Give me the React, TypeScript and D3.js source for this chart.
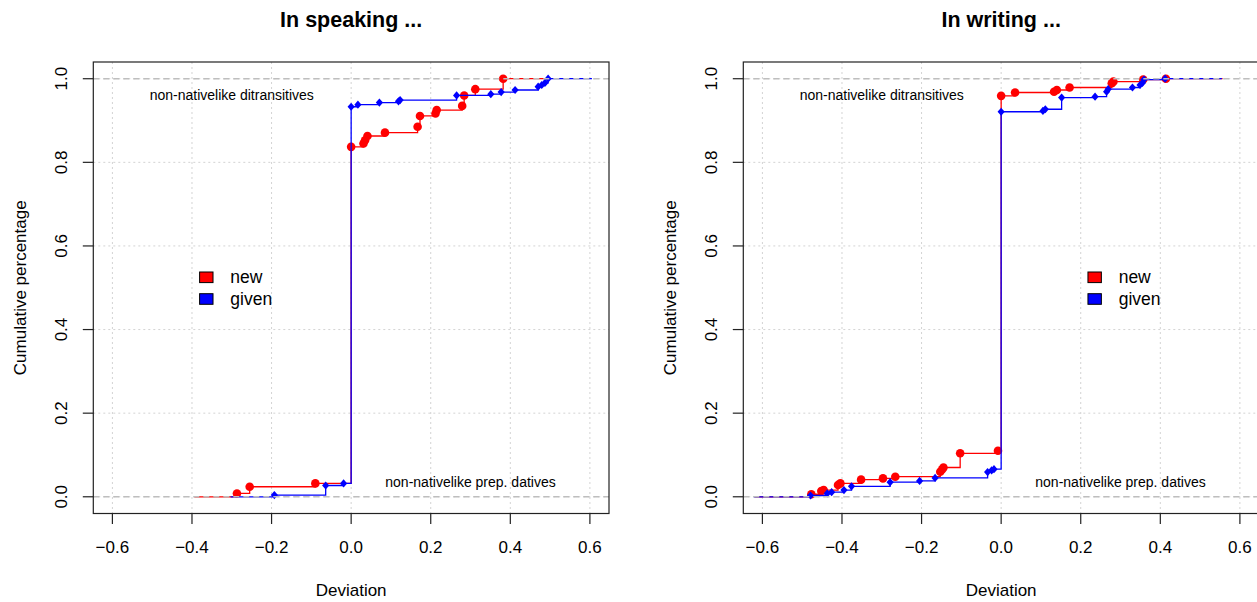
import React from 'react';
import * as d3 from 'd3';

const xTicks = [-0.6, -0.4, -0.2, 0, 0.2, 0.4, 0.6];
const yTicks = [0, 0.2, 0.4, 0.6, 0.8, 1.0];
const legendLabels = ['new', 'given'];
const seriesColors = ['#ff0000', '#0000ff'];
const panelTitles = ['In speaking ...', 'In writing ...'];
const topNote = 'non-nativelike ditransitives';
const bottomNote = 'non-nativelike prep. datives';

// In speaking: knots of the ECDF (deviation) and cumulative share
const speakingNewDev = [-0.287, -0.255, -0.09, 0, 0.031, 0.035, 0.041, 0.085, 0.167, 0.173, 0.212, 0.215, 0.279, 0.284, 0.312, 0.382];
const speakingNewCum = [0.008, 0.024, 0.032, 0.837, 0.845, 0.853, 0.863, 0.871, 0.885, 0.911, 0.917, 0.925, 0.935, 0.96, 0.975, 1.0];
const speakingGivenDev = [-0.193, -0.064, -0.019, 0, 0.017, 0.071, 0.119, 0.123, 0.265, 0.351, 0.377, 0.412, 0.47, 0.479, 0.487, 0.495];
const speakingGivenCum = [0.004, 0.027, 0.032, 0.933, 0.938, 0.943, 0.946, 0.949, 0.96, 0.963, 0.968, 0.973, 0.981, 0.985, 0.99, 1.0];

// In writing
const writingNewDev = [-0.477, -0.452, -0.446, -0.41, -0.404, -0.352, -0.297, -0.266, -0.153, -0.148, -0.145, -0.103, -0.008, 0, 0.035, 0.133, 0.14, 0.172, 0.278, 0.282, 0.357, 0.414];
const writingNewCum = [0.006, 0.014, 0.016, 0.028, 0.032, 0.041, 0.044, 0.048, 0.06, 0.066, 0.07, 0.104, 0.11, 0.959, 0.967, 0.969, 0.973, 0.979, 0.989, 0.993, 0.998, 1.0];
const writingGivenDev = [-0.479, -0.437, -0.426, -0.395, -0.376, -0.279, -0.205, -0.166, -0.034, -0.024, -0.018, 0, 0.105, 0.111, 0.152, 0.236, 0.265, 0.269, 0.33, 0.349, 0.355, 0.359, 0.412];
const writingGivenCum = [0.003, 0.008, 0.011, 0.016, 0.025, 0.035, 0.038, 0.045, 0.059, 0.063, 0.066, 0.921, 0.923, 0.927, 0.955, 0.957, 0.969, 0.975, 0.979, 0.985, 0.99, 0.998, 1.0];

const W = 1257;
const H = 602;
const FONT = '"Liberation Sans", Arial, Helvetica, sans-serif';

const BOX_W = 515.7;
const BOX_TOP = 62;
const BOX_BOTTOM = 513.5;

type Series = { dev: number[]; cum: number[]; color: string; kind: 'circle' | 'diamond' };

const panels = [
  {
    title: panelTitles[0],
    left: 93.3,
    series: [
      { dev: speakingNewDev, cum: speakingNewCum, color: seriesColors[0], kind: 'circle' },
      { dev: speakingGivenDev, cum: speakingGivenCum, color: seriesColors[1], kind: 'diamond' },
    ] as Series[],
    legendX: -0.364,
  },
  {
    title: panelTitles[1],
    left: 743.3,
    series: [
      { dev: writingNewDev, cum: writingNewCum, color: seriesColors[0], kind: 'circle' },
      { dev: writingGivenDev, cum: writingGivenCum, color: seriesColors[1], kind: 'diamond' },
    ] as Series[],
    legendX: 0.235,
  },
];

function Panel({ p }: { p: (typeof panels)[number] }) {
  const xPad = 0.04 * 1.2;
  const x = d3.scaleLinear().domain([-0.6 - xPad, 0.6 + xPad]).range([p.left, p.left + BOX_W]);
  const y = d3.scaleLinear().domain([-0.04, 1.04]).range([BOX_BOTTOM, BOX_TOP]);
  const clipId = `clip-${p.left}`;
  const cx = p.left + BOX_W / 2;
  const cy = (BOX_TOP + BOX_BOTTOM) / 2;

  const stepLine = d3
    .line<[number, number]>()
    .x((d) => x(d[0]))
    .y((d) => y(d[1]))
    .curve(d3.curveStepAfter);

  return (
    <g>
      <defs>
        <clipPath id={clipId}>
          <rect x={p.left} y={BOX_TOP} width={BOX_W} height={BOX_BOTTOM - BOX_TOP} />
        </clipPath>
      </defs>
      {/* grid */}
      <g stroke="#d3d3d3" strokeWidth={1} strokeDasharray="2,3">
        {xTicks.map((t) => (
          <line key={'gx' + t} x1={x(t)} x2={x(t)} y1={BOX_TOP} y2={BOX_BOTTOM} />
        ))}
        {yTicks.map((t) => (
          <line key={'gy' + t} x1={p.left} x2={p.left + BOX_W} y1={y(t)} y2={y(t)} />
        ))}
      </g>
      <g clipPath={`url(#${clipId})`}>
        {p.series.map((s, si) => {
          const ext = 0.16 * (s.dev[s.dev.length - 1] - s.dev[0]);
          const pts: [number, number][] = [
            [s.dev[0] - ext, 0],
            ...s.dev.map((d, i) => [d, s.cum[i]] as [number, number]),
            [s.dev[s.dev.length - 1] + ext, s.cum[s.cum.length - 1]],
          ];
          return (
            <g key={si}>
              <path d={stepLine(pts) || ''} fill="none" stroke={s.color} strokeWidth={1.3} />
              {s.dev.map((d, i) =>
                s.kind === 'circle' ? (
                  <circle key={i} cx={x(d)} cy={y(s.cum[i])} r={4.3} fill={s.color} />
                ) : (
                  <path
                    key={i}
                    d={`M${x(d)},${y(s.cum[i]) - 4.1}L${x(d) + 3.6},${y(s.cum[i])}L${x(d)},${y(s.cum[i]) + 4.1}L${x(d) - 3.6},${y(s.cum[i])}Z`}
                    fill={s.color}
                  />
                )
              )}
            </g>
          );
        })}
        {/* reference lines */}
        {[0, 1].map((v) => (
          <line key={'h' + v} x1={p.left} x2={p.left + BOX_W} y1={y(v)} y2={y(v)} stroke="#bebebe" strokeWidth={1.6} strokeDasharray="6,4" />
        ))}
      </g>
      {/* notes */}
      <text x={x(-0.3)} y={y(0.962)} fontSize={14} fontFamily={FONT} textAnchor="middle" dominantBaseline="central">
        {topNote}
      </text>
      <text x={x(0.3)} y={y(0.035)} fontSize={14} fontFamily={FONT} textAnchor="middle" dominantBaseline="central">
        {bottomNote}
      </text>
      {/* legend */}
      {legendLabels.map((lab, i) => {
        const ly = y(0.525) + i * 21.7;
        const lx = x(p.legendX);
        return (
          <g key={lab}>
            <rect x={lx - 6.7} y={ly - 5.3} width={13.4} height={10.6} fill={seriesColors[i]} stroke="#000" strokeWidth={1} />
            <text x={lx + 24} y={ly} fontSize={17.5} fontFamily={FONT} dominantBaseline="central">
              {lab}
            </text>
          </g>
        );
      })}
      {/* box */}
      <rect x={p.left} y={BOX_TOP} width={BOX_W} height={BOX_BOTTOM - BOX_TOP} fill="none" stroke="#222" strokeWidth={1.2} />
      {/* axes */}
      <g stroke="#222" strokeWidth={1.2}>
        {xTicks.map((t) => (
          <line key={'tx' + t} x1={x(t)} x2={x(t)} y1={BOX_BOTTOM} y2={BOX_BOTTOM + 10.5} />
        ))}
        {yTicks.map((t) => (
          <line key={'ty' + t} x1={p.left} x2={p.left - 10.5} y1={y(t)} y2={y(t)} />
        ))}
      </g>
      {xTicks.map((t) => (
        <text key={'lx' + t} x={x(t)} y={553} fontSize={17} fontFamily={FONT} textAnchor="middle">
          {d3.format('.1f')(t)}
        </text>
      ))}
      {yTicks.map((t) => (
        <text
          key={'ly' + t}
          transform={`translate(${p.left - 31.6},${y(t)}) rotate(-90)`}
          fontSize={17}
          fontFamily={FONT}
          textAnchor="middle"
          dominantBaseline="central"
        >
          {d3.format('.1f')(t)}
        </text>
      ))}
      <text x={cx} y={596} fontSize={17} fontFamily={FONT} textAnchor="middle">
        Deviation
      </text>
      <text
        transform={`translate(${p.left - 73},${cy}) rotate(-90)`}
        fontSize={17}
        fontFamily={FONT}
        textAnchor="middle"
        dominantBaseline="central"
      >
        Cumulative percentage
      </text>
      <text x={cx} y={27} fontSize={21.5} fontWeight="bold" fontFamily={FONT} textAnchor="middle">
        {p.title}
      </text>
    </g>
  );
}

export default function App() {
  return (
    <svg
      width={W}
      height={H}
      viewBox={`0 0 ${W} ${H}`}
      style={{ position: 'absolute', left: 0, top: 0, background: '#fff' }}
    >
      <rect x={0} y={0} width={W} height={H} fill="#fff" />
      {panels.map((p) => (
        <Panel key={p.title} p={p} />
      ))}
    </svg>
  );
}
